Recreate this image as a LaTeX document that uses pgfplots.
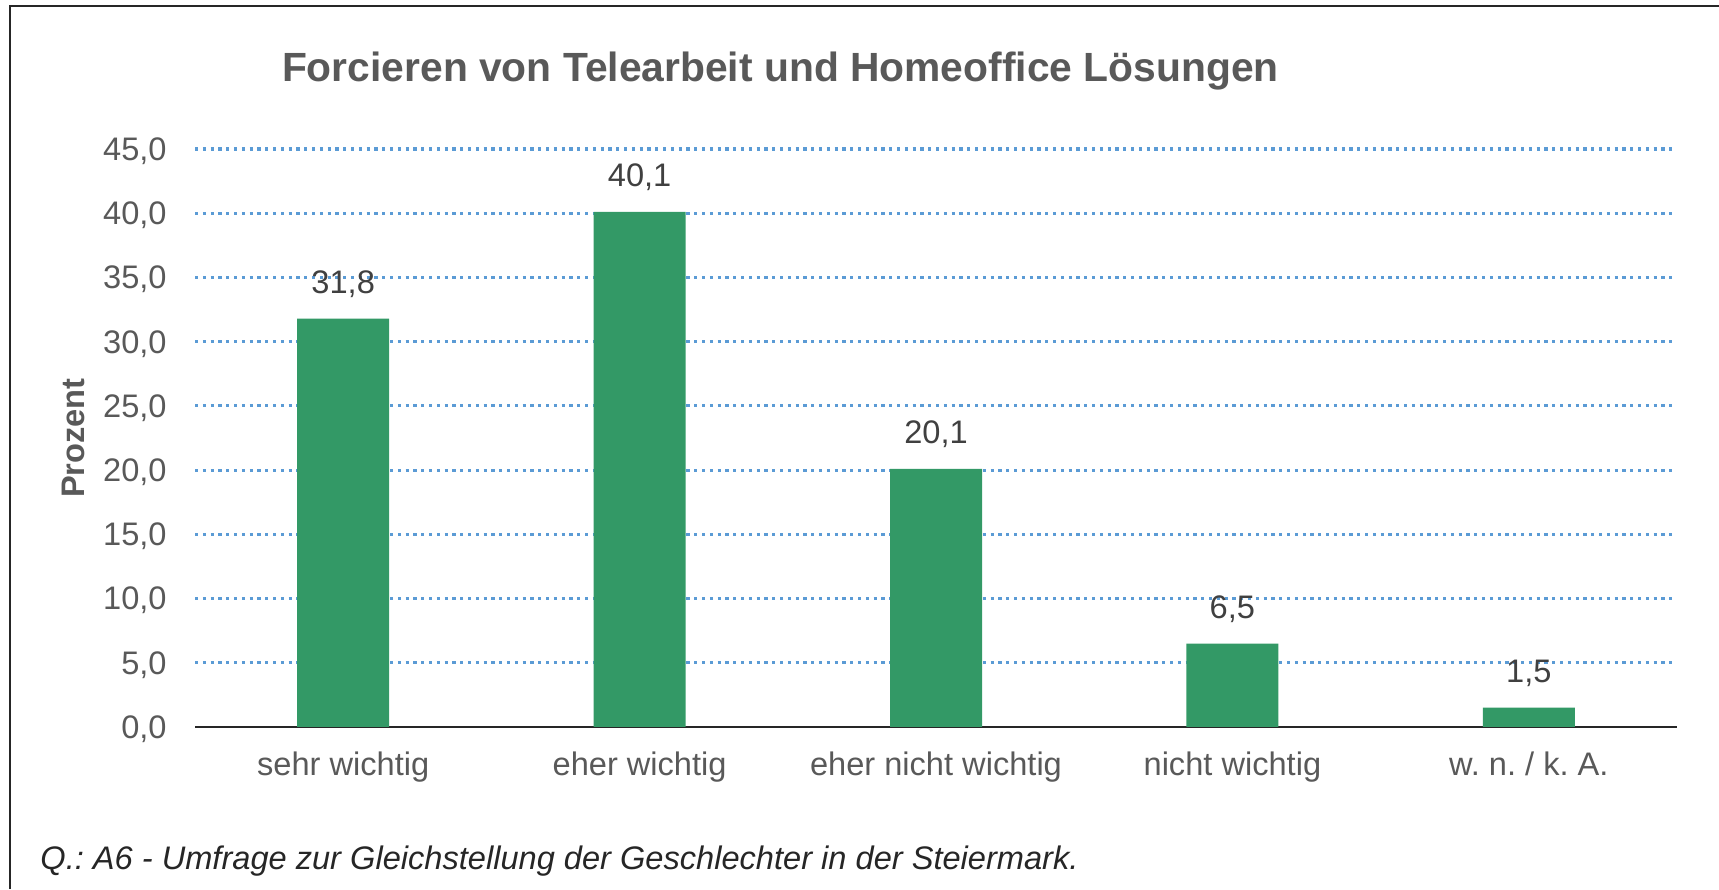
\documentclass[border=0pt]{standalone}
\usepackage{pgfplots}
\pgfplotsset{compat=1.18}
\usepackage{fontspec}
\setmainfont{Liberation Sans}
\definecolor{barfill}{HTML}{339966}
\definecolor{gridblue}{HTML}{5B9BD5}
\definecolor{greytext}{HTML}{595959}
\definecolor{datatext}{HTML}{404040}
\definecolor{axisdark}{HTML}{262626}
\newcommand{\fs}{\fontsize{16.3}{19}\selectfont}
\frenchspacing
\begin{document}
\begin{tikzpicture}
\useasboundingbox (0,0) rectangle (859.5pt,444.5pt);
\draw[line width=1pt, color=axisdark] (5pt,0pt) -- (5pt,441.5pt) -- (859.5pt,441.5pt);
\begin{axis}[
  at={(97.5pt,81pt)}, anchor=south west,
  scale only axis, width=741pt, height=289pt,
  xmin=-0.5, xmax=4.5, ymin=0, ymax=45,
  ybar, bar width=46pt, bar shift=0pt,
  axis x line*=bottom, axis y line*=left,
  y axis line style={draw=none},
  x axis line style={-, line width=1.25pt, color=axisdark},
  xtick={0,1,2,3,4},
  xticklabels={sehr wichtig, eher wichtig, eher nicht wichtig, nicht wichtig, w.\ n.\ /\ k.\ A.},
  ytick={5,10,...,45},
  extra y ticks={0},
  extra tick style={grid=none},
  major tick length=0pt,
  tick style={draw=none},
  ymajorgrids,
  major grid style={color=gridblue, line width=1.6pt, dash pattern=on 1.6pt off 2.3pt},
  /pgf/number format/.cd, fixed, fixed zerofill, precision=1, use comma, assume math mode=true,
  /pgfplots/.cd,
  yticklabel style={anchor=east, inner sep=0pt, xshift=-14pt, text depth=0pt, font=\fs, text=greytext},
  xticklabel style={anchor=base, inner sep=0pt, yshift=-24pt, font=\fs, text=greytext},
  nodes near coords,
  every node near coord/.append style={anchor=base, inner sep=0pt, yshift=12.5pt, font=\fs, text=datatext},
  ylabel={Prozent},
  ylabel style={at={(axis description cs:-0.0823,0.5)}, anchor=center, rotate=0, font=\bfseries\fs, text=greytext, inner sep=0pt},
  title={Forcieren von Telearbeit und Homeoffice Lösungen},
  title style={at={(axis description cs:0.395,1.096)}, anchor=base, font=\bfseries\fontsize{20.4}{24}\selectfont, text=greytext, inner sep=0pt},
  clip=false,
]
\addplot[fill=barfill, draw=none] coordinates {(0,31.8) (1,40.1) (2,20.1) (3,6.5) (4,1.5)};
\end{axis}
\node[anchor=base west, inner sep=0pt, font=\itshape\fs, text=axisdark] at (20pt,9.5pt) {Q.: A6 - Umfrage zur Gleichstellung der Geschlechter in der Steiermark.};
\end{tikzpicture}
\end{document}
